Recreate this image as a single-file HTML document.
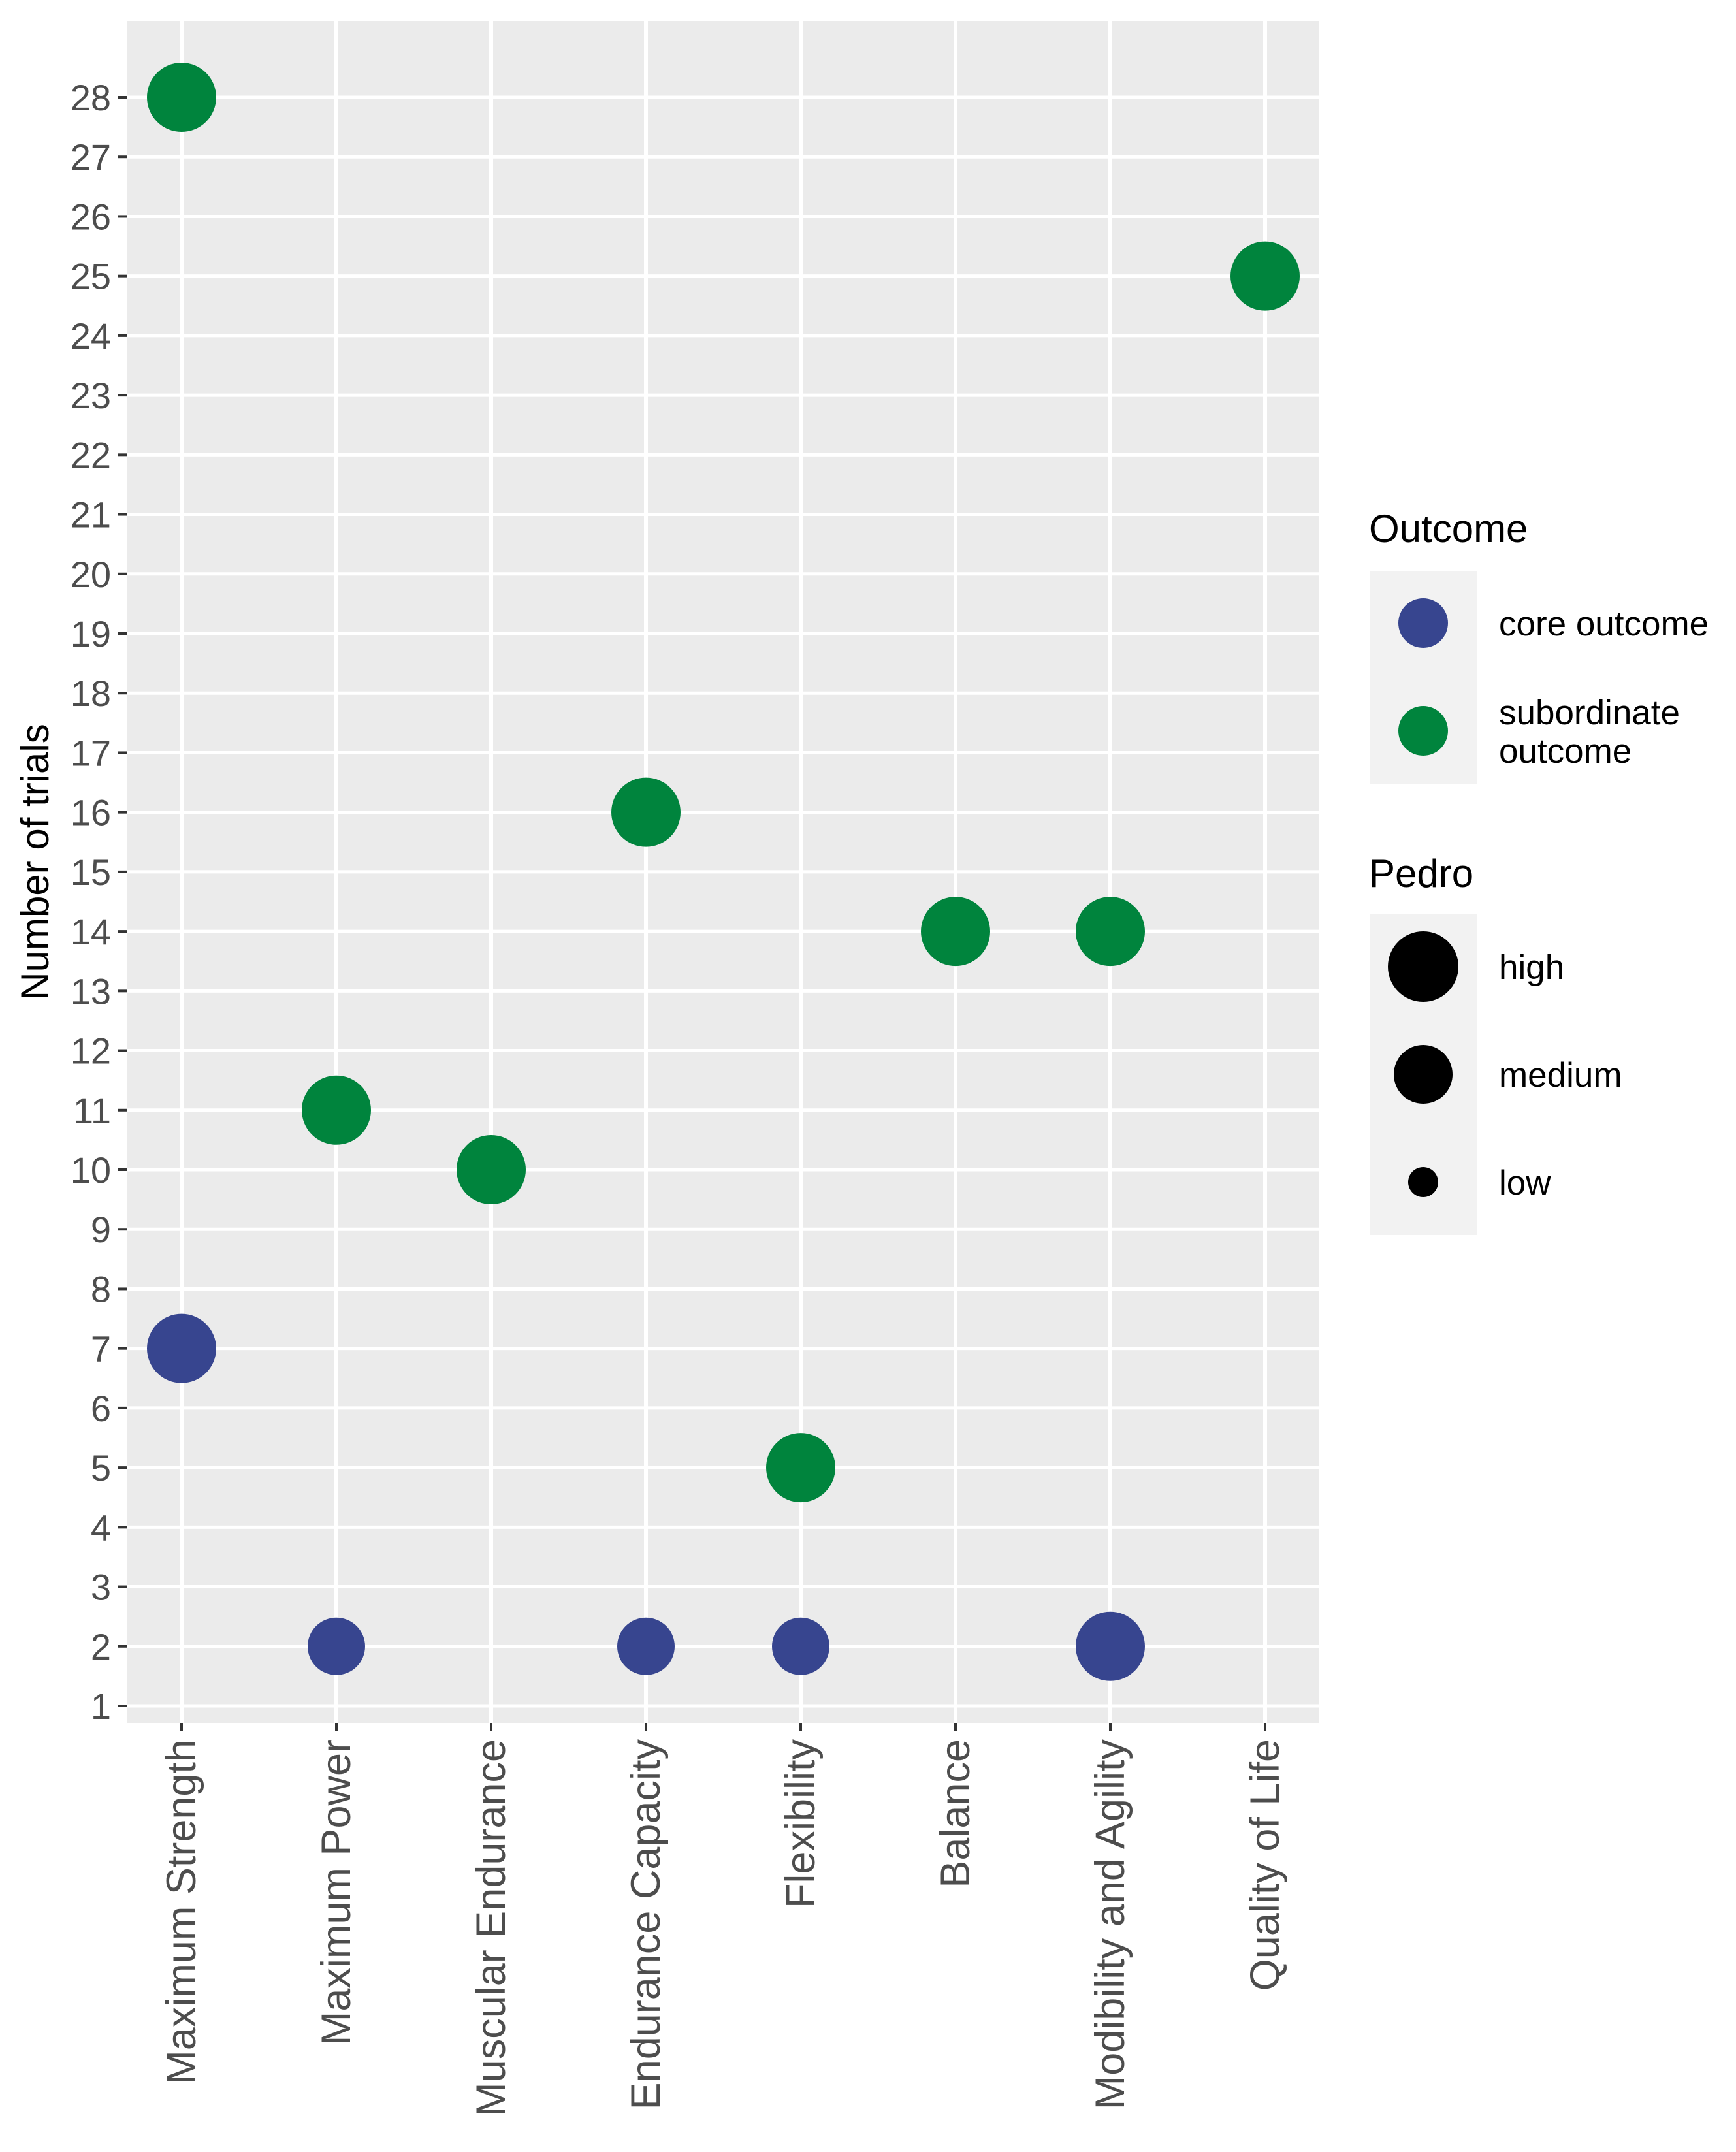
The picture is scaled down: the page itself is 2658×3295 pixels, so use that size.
<!DOCTYPE html>
<html><head><meta charset="utf-8"><style>
html,body{margin:0;padding:0;background:#fff}
svg{display:block;font-family:"Liberation Sans",Arial,sans-serif}
</style></head><body>
<svg id="chart" width="2658" height="3295" viewBox="0 0 2658 3295" xmlns="http://www.w3.org/2000/svg">
<rect x="194" y="32" width="1826" height="2606" fill="#ebebeb"/>
<g id="grid"></g>
<g id="yaxis"></g>
<g id="xaxis"></g>
<g id="points"></g>
<text transform="translate(74,1320) rotate(-90)" text-anchor="middle" font-size="60" fill="#000">Number of trials</text>
<g>
<text x="2096" y="830" font-size="60" fill="#000">Outcome</text>
<rect x="2097" y="875" width="164" height="326" fill="#f2f2f2"/>
<circle cx="2179" cy="954" r="38" fill="#37458f"/>
<text x="2295" y="973" font-size="53" fill="#000">core outcome</text>
<circle cx="2179" cy="1119" r="38" fill="#00843d"/>
<text x="2295" y="1109" font-size="53" fill="#000">subordinate</text>
<text x="2295" y="1168" font-size="53" fill="#000">outcome</text>
</g>
<g>
<text x="2096" y="1358" font-size="60" fill="#000">Pedro</text>
<rect x="2097" y="1399" width="164" height="492" fill="#f2f2f2"/>
<circle cx="2179" cy="1480" r="54" fill="#000"/>
<text x="2295" y="1499" font-size="53" fill="#000">high</text>
<circle cx="2179" cy="1645" r="45" fill="#000"/>
<text x="2295" y="1664" font-size="53" fill="#000">medium</text>
<circle cx="2179" cy="1810" r="23" fill="#000"/>
<text x="2295" y="1829" font-size="53" fill="#000">low</text>
</g>
</svg>
<script>
const categories = ["Maximum Strength","Maximum Power","Muscular Endurance","Endurance Capacity","Flexibility","Balance","Modibility and Agility","Quality of Life"];
const pointCategory = ["Maximum Strength","Maximum Strength","Maximum Power","Maximum Power","Muscular Endurance","Endurance Capacity","Endurance Capacity","Flexibility","Flexibility","Balance","Modibility and Agility","Modibility and Agility","Quality of Life"];
const pointTrials = [28,7,11,2,10,16,2,5,2,14,14,2,25];
const pointOutcome = ["subordinate","core","subordinate","core","subordinate","subordinate","core","subordinate","core","subordinate","subordinate","core","subordinate"];
const pointPedro = ["high","high","high","medium","high","high","medium","high","medium","high","high","high","high"];
const yTicks = [1,2,3,4,5,6,7,8,9,10,11,12,13,14,15,16,17,18,19,20,21,22,23,24,25,26,27,28];

const NS="http://www.w3.org/2000/svg";
const panel={l:194,r:2020,t:32,b:2638};
function xPos(c){return 278+categories.indexOf(c)*237;}
function yPos(v){return 2612-(v-1)*(2612-149)/27;}
const sizeR={high:53,medium:44,low:23};
const colorOf={core:"#37458f",subordinate:"#00843d"};
function mk(tag,attrs,parent){const e=document.createElementNS(NS,tag);for(const k in attrs)e.setAttribute(k,attrs[k]);parent.appendChild(e);return e;}
const grid=document.getElementById('grid'),ya=document.getElementById('yaxis'),xa=document.getElementById('xaxis'),pts=document.getElementById('points');
yTicks.forEach(v=>{
  const y=yPos(v);
  const g=mk('line',{x1:panel.l,x2:panel.r,y1:y,y2:y,stroke:"#fff","stroke-width":5},grid);
  
  
  const t=mk('line',{x1:181,x2:194,y1:y,y2:y,stroke:"#333","stroke-width":4},ya);
  
  
  const l=mk('text',{x:170,y:y+20,"text-anchor":"end","font-size":56,fill:"#4d4d4d"},ya);
  
  
  l.textContent=v;
});
categories.forEach(c=>{
  const x=xPos(c);
  const g=mk('line',{x1:x,x2:x,y1:panel.t,y2:panel.b,stroke:"#fff","stroke-width":6},grid);
  
  
  const t=mk('line',{x1:x,x2:x,y1:panel.b,y2:panel.b+13,stroke:"#333","stroke-width":4},xa);
  
  
  const l=mk('text',{transform:`translate(${x+21},2663) rotate(-90)`,"text-anchor":"end","font-size":63,fill:"#4d4d4d"},xa);
  
  
  l.textContent=c;
});
pointTrials.forEach((v,i)=>{
  const c=mk('circle',{cx:xPos(pointCategory[i]),cy:yPos(v),r:sizeR[pointPedro[i]],fill:colorOf[pointOutcome[i]]},pts);
  
  
});
</script>
</body></html>
